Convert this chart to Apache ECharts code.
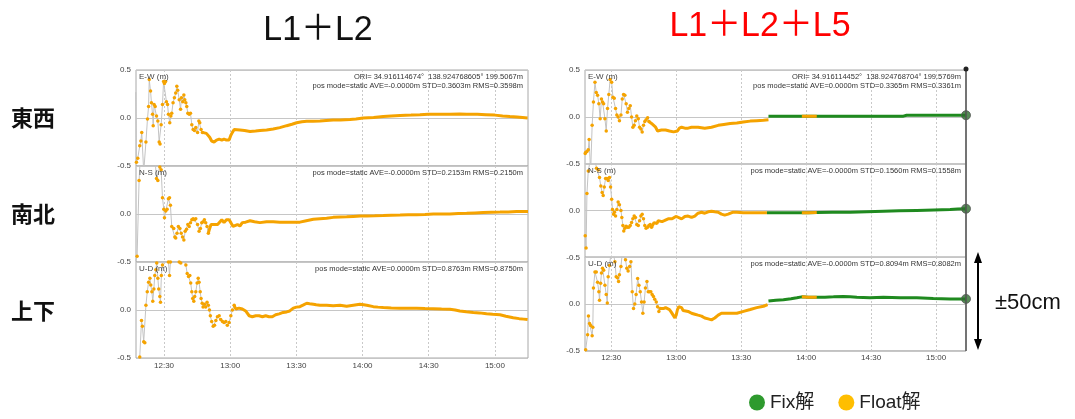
<!DOCTYPE html>
<html>
<head>
<meta charset="utf-8">
<script src="https://cdn.jsdelivr.net/npm/echarts@6/dist/echarts.min.js"></script>
<style>
  html, body { margin: 0; padding: 0; background: #fff; }
  #chart { width: 1075px; height: 419px; }
</style>
</head>
<body>
<div id="chart"></div>
<script>
// Time is in minutes after 12:00, positions in metres.
const timeTicks = [30, 60, 90, 120, 150, 180];
const timeTickLabels = ['12:30', '13:00', '13:30', '14:00', '14:30', '15:00'];
const componentNames = ['E-W (m)', 'N-S (m)', 'U-D (m)'];
const rowLabels = ['東西', '南北', '上下'];
const panelTitles = ['L1＋L2', 'L1＋L2＋L5'];
const legendNames = ['Fix解', 'Float解'];
const spanLabel = '±50cm';

const statsL = [
  ['ORI= 34.916114674°  138.924768605° 199.5067m', 'pos mode=static AVE=-0.0000m STD=0.3603m RMS=0.3598m'],
  ['pos mode=static AVE=-0.0000m STD=0.2153m RMS=0.2150m'],
  ['pos mode=static AVE=0.0000m STD=0.8763m RMS=0.8750m']
];
const statsR = [
  ['ORI= 34.916114452°  138.924768704° 199.5769m', 'pos mode=static AVE=0.0000m STD=0.3365m RMS=0.3361m'],
  ['pos mode=static AVE=-0.0000m STD=0.1560m RMS=0.1558m'],
  ['pos mode=static AVE=-0.0000m STD=0.8094m RMS=0.8082m']
];

// ---- L1+L2 (float only) ----
const ewL_sparse = [[17.2,0.27],[17.5,-0.46],[18.1,-0.42],[19.0,-0.29],[19.5,-0.24],[19.9,-0.15],[20.8,-0.56],[21.8,-0.25],[22.5,-0.01],[23.0,0.12],[23.3,0.40],[23.9,0.28],[24.3,0.16],[24.8,0.04],[25.1,-0.08],[25.5,0.14],[26.0,0.12],[26.6,0.02],[27.2,-0.03],[27.8,-0.25],[28.2,-0.27],[28.7,-0.07],[29.3,0.14],[29.8,0.38],[30.2,0.36],[30.7,0.38],[31.1,0.17],[31.6,0.14],[32.0,0.04],[32.6,-0.05],[33.1,0.02],[33.5,0.05],[34.1,0.16],[34.7,0.21],[35.3,0.26],[35.8,0.33],[36.2,0.29],[36.9,0.19],[37.5,0.09],[37.9,0.21],[38.5,0.17],[39.0,0.24],[39.4,0.19],[39.9,0.16],[40.3,0.12],[40.8,0.05],[41.4,0.04],[42.0,0.05],[42.6,-0.07],[43.2,-0.12],[43.8,-0.13],[44.4,-0.10],[45.2,-0.15],[45.8,-0.03],[46.2,-0.05],[46.8,-0.12],[47.4,-0.15]];
const ewL_track = [[47.4,-0.15],[48.2,-0.15],[49.2,-0.16],[50.1,-0.17],[50.7,-0.20],[51.6,-0.24],[52.7,-0.25],[53.8,-0.23],[55.0,-0.22],[56.2,-0.23],[57.2,-0.22],[58.3,-0.23],[59.5,-0.23],[60.3,-0.18],[61.0,-0.15],[61.8,-0.12],[62.5,-0.13],[64.4,-0.125],[66.5,-0.13],[69.0,-0.14],[71.5,-0.135],[73.5,-0.13],[76.5,-0.125],[79.5,-0.115],[82.5,-0.10],[85.6,-0.08],[88.0,-0.065],[90.1,-0.05],[92.5,-0.04],[94.7,-0.035],[97.5,-0.035],[100.7,-0.03],[103.5,-0.025],[106.7,-0.02],[110.0,-0.02],[114.3,-0.015],[117.0,-0.01],[120.3,0.0],[125.0,0.005],[129.4,0.015],[133.0,0.02],[137.0,0.025],[142.0,0.03],[146.0,0.035],[149.8,0.04],[155.0,0.04],[159.6,0.04],[164.0,0.042],[167.2,0.04],[172.0,0.038],[176.0,0.035],[180.0,0.03],[183.5,0.022],[186.8,0.015],[190.0,0.01],[192.5,0.005],[194.8,0.0]];

const nsL_sparse = [[17.2,-0.49],[17.8,-0.44],[18.7,0.35],[19.6,0.75],[25.8,0.6],[26.6,0.37],[27.2,0.35],[28.1,0.49],[28.7,0.46],[29.3,0.17],[29.9,0.05],[30.2,-0.04],[30.8,0.03],[31.4,0.05],[32.0,0.16],[32.5,0.17],[32.9,0.09],[33.5,-0.13],[34.4,-0.15],[34.9,-0.24],[35.3,-0.25],[35.9,-0.20],[36.5,-0.13],[37.2,-0.15],[37.8,-0.20],[38.4,-0.24],[39.0,-0.27],[39.6,-0.18],[40.2,-0.16],[40.8,-0.11],[41.4,-0.13],[42.0,-0.09],[42.6,-0.06],[43.2,-0.05],[43.8,-0.06],[44.4,-0.05],[45.2,-0.11],[45.9,-0.18],[46.5,-0.15],[47.1,-0.09],[47.7,-0.08],[48.3,-0.06],[48.9,-0.09],[49.5,-0.13],[50.1,-0.20]];
const nsL_track = [[50.1,-0.20],[50.7,-0.15],[51.3,-0.11],[52.0,-0.09],[52.7,-0.11],[53.5,-0.13],[54.3,-0.11],[55.0,-0.09],[56.2,-0.06],[57.2,-0.09],[58.3,-0.06],[59.5,-0.06],[60.3,-0.09],[61.3,-0.13],[62.2,-0.12],[63.3,-0.11],[64.4,-0.125],[65.5,-0.09],[67.0,-0.085],[69.0,-0.07],[71.0,-0.08],[73.5,-0.09],[76.5,-0.08],[79.5,-0.08],[82.5,-0.085],[85.6,-0.085],[88.5,-0.085],[91.6,-0.085],[94.5,-0.07],[97.7,-0.055],[100.7,-0.05],[103.7,-0.045],[106.7,-0.035],[109.8,-0.03],[112.8,-0.028],[115.8,-0.025],[119.0,-0.022],[121.9,-0.02],[125.5,-0.018],[129.4,-0.015],[133.0,-0.012],[137.0,-0.01],[140.7,-0.008],[144.5,-0.007],[148.3,-0.004],[152.1,0.0],[155.8,0.0],[159.6,0.0],[163.4,0.004],[167.2,0.007],[171.0,0.011],[174.7,0.015],[178.5,0.018],[182.3,0.02],[186.0,0.022],[189.8,0.025],[192.5,0.025],[195.0,0.025]];

const udL_sparse = [[19.0,-0.49],[19.8,-0.11],[20.2,-0.17],[20.8,-0.33],[21.3,-0.34],[21.8,0.05],[22.4,0.19],[23.0,0.29],[23.6,0.33],[24.0,0.26],[24.5,0.19],[24.9,0.09],[25.4,0.22],[25.8,0.36],[26.3,0.42],[26.7,0.49],[27.2,0.33],[27.6,0.22],[28.1,0.14],[28.4,0.08],[28.8,0.36],[29.3,0.47],[29.9,0.54],[30.8,0.64],[32.0,0.50],[32.5,0.36],[32.9,0.50],[33.8,0.64],[35.3,0.64],[36.9,0.50],[37.6,0.49],[38.4,0.54],[39.9,0.47],[40.5,0.38],[41.1,0.35],[41.7,0.36],[42.1,0.28],[42.6,0.19],[43.0,0.12],[43.5,0.09],[43.9,0.14],[44.4,0.19],[45.0,0.28],[45.5,0.33],[45.9,0.29],[46.4,0.19],[46.8,0.12],[47.3,0.07],[47.7,0.03],[48.3,0.06],[48.9,0.03],[49.5,0.08],[50.1,0.05],[50.6,0.0],[51.0,-0.06],[51.6,-0.12],[52.3,-0.17],[52.9,-0.16],[53.5,-0.11],[54.2,-0.07],[55.0,-0.06],[55.7,-0.10],[56.5,-0.12],[57.2,-0.13],[58.0,-0.12],[58.7,-0.16],[59.5,-0.13],[60.3,-0.06],[61.0,0.0],[61.8,0.05]];
const udL_track = [[61.8,0.05],[62.5,0.01],[63.3,0.03],[64.0,0.02],[64.8,0.04],[65.5,0.01],[66.3,0.01],[67.0,-0.01],[68.6,-0.06],[70.0,-0.07],[71.6,-0.06],[73.1,-0.06],[74.6,-0.07],[76.1,-0.06],[77.6,-0.07],[79.1,-0.07],[80.6,-0.05],[82.2,-0.04],[84.0,-0.025],[85.6,-0.02],[87.0,-0.01],[88.6,0.02],[90.0,0.03],[91.6,0.035],[93.0,0.05],[94.7,0.07],[96.0,0.065],[97.7,0.06],[99.0,0.055],[100.7,0.05],[103.7,0.05],[106.7,0.045],[109.8,0.05],[112.8,0.04],[115.8,0.05],[118.8,0.06],[120.5,0.055],[121.9,0.05],[124.9,0.035],[127.0,0.03],[129.4,0.025],[133.0,0.02],[137.0,0.017],[140.7,0.017],[144.5,0.017],[148.3,0.015],[152.1,0.014],[155.8,0.01],[159.6,0.007],[162.0,0.0],[164.1,-0.01],[167.0,-0.018],[170.2,-0.025],[173.0,-0.03],[176.2,-0.04],[179.0,-0.045],[182.3,-0.05],[185.0,-0.065],[188.3,-0.08],[191.0,-0.09],[193.0,-0.095],[194.8,-0.10]];

// ---- L1+L2+L5 (float, then fix) ----
const ewR_sparse = [[18.0,-0.39],[18.2,-0.38],[18.8,-0.37],[19.4,-0.35],[19.8,-0.24],[20.5,-0.59],[21.2,-0.09],[21.8,0.16],[22.5,0.37],[23.1,0.26],[23.7,0.23],[24.3,0.14],[24.9,-0.02],[25.5,0.19],[26.0,0.16],[26.5,0.14],[27.1,-0.02],[27.7,-0.15],[28.3,0.09],[28.9,0.24],[29.5,0.40],[30.2,0.37],[30.8,0.21],[31.4,0.20],[32.0,0.09],[32.6,0.02],[33.2,0.0],[33.8,-0.04],[34.5,0.02],[35.1,0.19],[35.7,0.24],[36.3,0.23],[36.9,0.14],[37.5,0.05],[38.1,0.09],[38.8,0.12],[39.4,0.0],[40.0,-0.11],[40.6,-0.09],[41.2,-0.04],[41.8,0.01],[42.5,-0.02],[43.1,-0.11],[43.7,-0.13],[44.3,-0.16],[44.9,-0.09],[45.5,-0.05],[46.1,-0.03],[46.8,-0.01],[47.4,-0.05]];
const ewR_track = [[47.4,-0.05],[48.0,-0.07],[48.6,-0.07],[49.5,-0.09],[50.5,-0.11],[51.4,-0.15],[52.3,-0.15],[53.2,-0.14],[54.1,-0.15],[55.1,-0.14],[56.0,-0.15],[56.9,-0.15],[57.8,-0.16],[58.8,-0.16],[59.7,-0.17],[60.6,-0.15],[61.5,-0.12],[62.5,-0.11],[64.0,-0.12],[65.5,-0.12],[67.1,-0.11],[68.6,-0.11],[70.1,-0.11],[73.2,-0.12],[76.3,-0.11],[79.4,-0.09],[82.0,-0.08],[84.9,-0.07],[88.0,-0.065],[91.0,-0.055],[94.2,-0.045],[97.2,-0.04],[100.3,-0.035],[102.6,-0.03]];
const ewR_fix = [[102.6,0.007],[110.0,0.007],[118.0,0.007],[121.0,0.007],[124.9,0.007],[135.0,0.007],[145.0,0.008],[155.0,0.008],[164.9,0.008],[166.4,0.018],[175.0,0.018],[185.0,0.018],[193.8,0.018]];

const nsR_sparse = [[18.0,-0.27],[18.4,-0.40],[18.8,0.18],[19.4,0.42],[21.0,0.62],[22.5,0.55],[23.2,0.45],[24.0,0.43],[24.6,0.35],[25.2,0.26],[25.8,0.19],[26.3,0.16],[26.8,0.25],[27.4,0.34],[28.0,0.34],[28.6,0.32],[29.2,0.35],[29.7,0.25],[30.2,0.12],[30.6,0.01],[31.1,-0.04],[31.5,-0.02],[32.0,-0.06],[32.6,0.01],[33.2,0.09],[33.8,0.06],[34.5,0.0],[34.9,-0.075],[35.4,-0.16],[35.8,-0.22],[36.3,-0.19],[36.9,-0.17],[37.5,-0.18],[38.1,-0.18],[38.8,-0.16],[39.4,-0.13],[40.0,-0.09],[40.6,-0.06],[41.2,-0.075],[41.8,-0.15],[42.5,-0.16],[43.1,-0.11],[43.7,-0.06],[44.3,-0.04],[44.9,-0.09],[45.5,-0.16],[46.1,-0.19],[46.8,-0.18],[47.4,-0.16],[48.0,-0.15],[48.6,-0.18]];
const nsR_track = [[48.6,-0.18],[49.2,-0.17],[49.8,-0.13],[50.5,-0.15],[51.1,-0.14],[51.7,-0.11],[52.6,-0.09],[53.5,-0.12],[54.5,-0.11],[55.4,-0.10],[56.3,-0.09],[57.2,-0.09],[58.1,-0.09],[59.1,-0.075],[60.1,-0.065],[60.9,-0.075],[62.5,-0.09],[64.0,-0.065],[65.5,-0.06],[67.1,-0.075],[68.6,-0.06],[70.1,-0.03],[71.7,-0.02],[73.2,-0.03],[74.8,-0.015],[76.3,-0.01],[77.8,-0.015],[79.4,-0.02],[80.9,-0.04],[82.4,-0.05],[84.0,-0.04],[86.0,-0.02],[88.0,-0.02],[91.0,-0.025],[94.2,-0.025],[97.0,-0.025],[100.0,-0.025],[101.9,-0.025]];
const nsR_fix = [[101.9,-0.025],[110.0,-0.025],[118.0,-0.025],[121.0,-0.025],[124.9,-0.022],[132.0,-0.02],[140.3,-0.02],[148.0,-0.015],[155.7,-0.01],[163.0,-0.005],[171.1,0.0],[179.0,0.005],[186.5,0.01],[190.0,0.015],[193.8,0.018]];

const udR_sparse = [[18.2,-0.49],[19.1,-0.33],[19.5,-0.13],[20.0,-0.21],[20.5,-0.23],[21.2,-0.34],[21.5,-0.25],[21.8,0.17],[22.5,0.34],[23.1,0.34],[23.7,0.23],[24.3,0.13],[24.6,0.04],[25.1,0.22],[25.5,0.33],[26.0,0.38],[26.5,0.36],[27.1,0.20],[27.7,0.10],[28.2,0.01],[28.6,0.29],[29.2,0.41],[29.8,0.52],[30.8,0.56],[31.7,0.45],[32.3,0.29],[32.9,0.28],[33.4,0.24],[33.8,0.31],[34.5,0.40],[35.1,0.54],[36.0,0.52],[36.6,0.47],[37.2,0.38],[37.8,0.35],[38.5,0.40],[39.1,0.45],[39.7,0.13],[40.3,-0.05],[40.9,0.0],[41.5,0.10],[42.2,0.27],[42.8,0.20],[43.4,0.13],[44.0,0.02],[44.6,-0.10],[45.2,0.02],[45.8,0.17],[46.5,0.24],[47.1,0.13],[47.7,0.13],[48.3,0.13],[48.9,0.10],[49.5,0.08],[50.1,0.05],[50.8,0.02],[51.4,-0.03],[52.0,-0.08],[52.6,-0.05]];
const udR_track = [[52.6,-0.05],[53.2,-0.03],[54.1,-0.05],[55.1,-0.04],[56.0,-0.05],[56.9,-0.06],[57.8,-0.09],[58.6,-0.12],[59.4,-0.15],[60.0,-0.12],[60.6,-0.06],[61.2,-0.03],[61.8,-0.01],[62.5,-0.04],[63.2,-0.07],[64.0,-0.09],[65.5,-0.08],[67.1,-0.10],[68.6,-0.11],[70.1,-0.12],[71.7,-0.13],[73.2,-0.15],[74.8,-0.16],[76.3,-0.17],[77.8,-0.15],[79.4,-0.12],[80.9,-0.10],[82.4,-0.10],[84.9,-0.10],[88.0,-0.10],[91.1,-0.08],[94.2,-0.06],[97.2,-0.04],[100.3,-0.025],[102.2,-0.007]];
const udR_fix = [[102.6,0.03],[106.0,0.04],[109.5,0.045],[113.0,0.055],[115.7,0.065],[118.0,0.075],[121.0,0.072],[124.9,0.07],[128.7,0.072],[132.6,0.075],[137.2,0.08],[140.3,0.075],[143.4,0.07],[149.5,0.065],[155.7,0.07],[163.4,0.065],[171.1,0.065],[178.7,0.057],[186.5,0.053],[193.8,0.053]];

// float interval inside the fixed stretch (13:58 - 14:05)
const floatGapR = [118.0, 124.9];

const FLOAT = '#f5a300';
const FIX = '#1f8a1f';
const SMALL_FONT = '"Liberation Sans", Arial, sans-serif';
const CJK_FONT = '"Liberation Sans", "Noto Sans CJK JP", sans-serif';

const panels = [
  { left: 136, width: 392, tops: [70, 166, 262], height: 96, min: 17.3, max: 195,
    stats: statsL, rows: [[ewL_sparse, ewL_track], [nsL_sparse, nsL_track], [udL_sparse, udL_track]] },
  { left: 585, width: 381, tops: [70, 163.5, 257], height: 93.8, min: 17.9, max: 193.8,
    stats: statsR, rows: [[ewR_sparse, ewR_track, ewR_fix], [nsR_sparse, nsR_track, nsR_fix], [udR_sparse, udR_track, udR_fix]] }
];

const grids = [], xAxes = [], yAxes = [], series = [], graphics = [];

panels.forEach((p, pi) => {
  p.tops.forEach((top, ri) => {
    const gi = grids.length;
    grids.push({ left: p.left, top: top, width: p.width, height: p.height,
      show: true, borderColor: '#a8a8a8', borderWidth: 1, backgroundColor: '#fff' });
    xAxes.push({
      type: 'value', gridIndex: gi, min: p.min, max: p.max,
      axisLine: { show: false },
      axisTick: { show: false, customValues: timeTicks },
      axisLabel: {
        show: ri === 2, customValues: timeTicks, fontSize: 8, color: '#444',
        fontFamily: SMALL_FONT, margin: pi === 0 ? 4 : 3,
        formatter: v => timeTickLabels[timeTicks.indexOf(Math.round(v))] || ''
      },
      splitLine: { show: true, lineStyle: { color: '#c9c9c9', type: [2, 2], width: 1 } }
    });
    yAxes.push({
      type: 'value', gridIndex: gi, min: -0.5, max: 0.5, interval: 0.5,
      axisLine: { show: false }, axisTick: { show: false },
      axisLabel: { fontSize: 8, color: '#444', fontFamily: SMALL_FONT, margin: 5,
        showMaxLabel: ri === 0, showMinLabel: true, formatter: v => v.toFixed(1) },
      splitLine: { show: true, lineStyle: { color: '#c6c6c6', width: 1 } }
    });

    const [sparse, track, fix] = p.rows[ri];
    series.push({
      type: 'line', name: legendNames[1], xAxisIndex: gi, yAxisIndex: gi, data: sparse,
      symbol: 'circle', symbolSize: 3.5, showSymbol: true,
      lineStyle: { color: '#c3c3c3', width: 1 }, itemStyle: { color: FLOAT },
      z: 3, silent: true
    });
    series.push({
      type: 'line', name: legendNames[1], xAxisIndex: gi, yAxisIndex: gi, data: track,
      showSymbol: false, lineStyle: { color: FLOAT, width: 3 }, itemStyle: { color: FLOAT },
      z: 4, silent: true
    });
    if (fix) {
      series.push({
        type: 'line', name: legendNames[0], xAxisIndex: gi, yAxisIndex: gi, data: fix,
        showSymbol: false, lineStyle: { color: FIX, width: 3 }, itemStyle: { color: FIX },
        z: 4, silent: true
      });
      series.push({
        type: 'line', name: legendNames[1], xAxisIndex: gi, yAxisIndex: gi,
        data: fix.filter(d => d[0] >= floatGapR[0] && d[0] <= floatGapR[1]),
        showSymbol: false, lineStyle: { color: FLOAT, width: 3 }, itemStyle: { color: FLOAT },
        z: 5, silent: true
      });
      series.push({
        type: 'scatter', xAxisIndex: gi, yAxisIndex: gi, data: [fix[fix.length - 1]],
        symbolSize: 9, clip: false,
        itemStyle: { color: '#2c6e2c', borderColor: '#555', borderWidth: 1 },
        z: 7, silent: true
      });
    }

    // component name, top-left inside the plot
    graphics.push({ type: 'text', x: p.left + 3, y: top + 7,
      style: { text: componentNames[ri], fontSize: 8, fontFamily: SMALL_FONT, fill: '#444',
        align: 'left', verticalAlign: 'middle', textAlign: 'left', textVerticalAlign: 'middle' }, z: 10 });
    // statistics, top-right inside the plot
    p.stats[ri].forEach((line, li) => {
      graphics.push({ type: 'text', x: p.left + p.width - 5, y: top + 7 + li * 8.5,
        style: { text: line, fontSize: 7.5, fontFamily: SMALL_FONT, fill: '#333',
          align: 'right', verticalAlign: 'middle', textAlign: 'right', textVerticalAlign: 'middle' }, z: 10 });
    });
  });
});

// panel titles
graphics.push({ type: 'text', x: 318, y: 30, scaleX: 0.97,
  style: { text: panelTitles[0], fontSize: 35, fontFamily: CJK_FONT, fill: '#111',
    align: 'center', verticalAlign: 'middle', textAlign: 'center', textVerticalAlign: 'middle' } });
graphics.push({ type: 'text', x: 760, y: 26, scaleX: 0.97,
  style: { text: panelTitles[1], fontSize: 35, fontFamily: CJK_FONT, fill: '#ff0000',
    align: 'center', verticalAlign: 'middle', textAlign: 'center', textVerticalAlign: 'middle' } });

// row labels on the left
[118, 214, 311].forEach((y, i) => {
  graphics.push({ type: 'text', x: 11, y: y,
    style: { text: rowLabels[i], fontSize: 22, fontWeight: 'bold',
      fontFamily: '"Noto Sans CJK JP", sans-serif', fill: '#111',
      align: 'left', verticalAlign: 'middle', textAlign: 'left', textVerticalAlign: 'middle' } });
});

// cursor line at the end of the fixed data
graphics.push({ type: 'line', shape: { x1: 966, y1: 69, x2: 966, y2: 351 },
  style: { stroke: '#555', lineWidth: 1.5 }, z: 8 });
graphics.push({ type: 'circle', shape: { cx: 966, cy: 69, r: 2.5 }, style: { fill: '#222' }, z: 9 });

// ±50cm span arrow
graphics.push({ type: 'line', shape: { x1: 978, y1: 260, x2: 978, y2: 342 },
  style: { stroke: '#000', lineWidth: 2 } });
graphics.push({ type: 'polygon', shape: { points: [[978, 252], [974, 263], [982, 263]] }, style: { fill: '#000' } });
graphics.push({ type: 'polygon', shape: { points: [[978, 350], [974, 339], [982, 339]] }, style: { fill: '#000' } });
graphics.push({ type: 'text', x: 995, y: 303,
  style: { text: spanLabel, fontSize: 22, fontFamily: CJK_FONT, fill: '#111',
    align: 'left', verticalAlign: 'middle', textAlign: 'left', textVerticalAlign: 'middle' } });

const chart = echarts.init(document.getElementById('chart'), null, { renderer: 'canvas' });
chart.setOption({
  animation: false,
  backgroundColor: '#fff',
  grid: grids,
  xAxis: xAxes,
  yAxis: yAxes,
  series: series,
  graphic: graphics,
  legend: {
    left: 744, top: 388, icon: 'circle', itemWidth: 16, itemHeight: 16, itemGap: 24,
    selectedMode: false,
    textStyle: { fontSize: 19, color: '#222', fontFamily: CJK_FONT },
    data: [
      { name: legendNames[0], itemStyle: { color: '#2e9a2e' } },
      { name: legendNames[1], itemStyle: { color: '#ffbe00' } }
    ]
  }
});
</script>
</body>
</html>
